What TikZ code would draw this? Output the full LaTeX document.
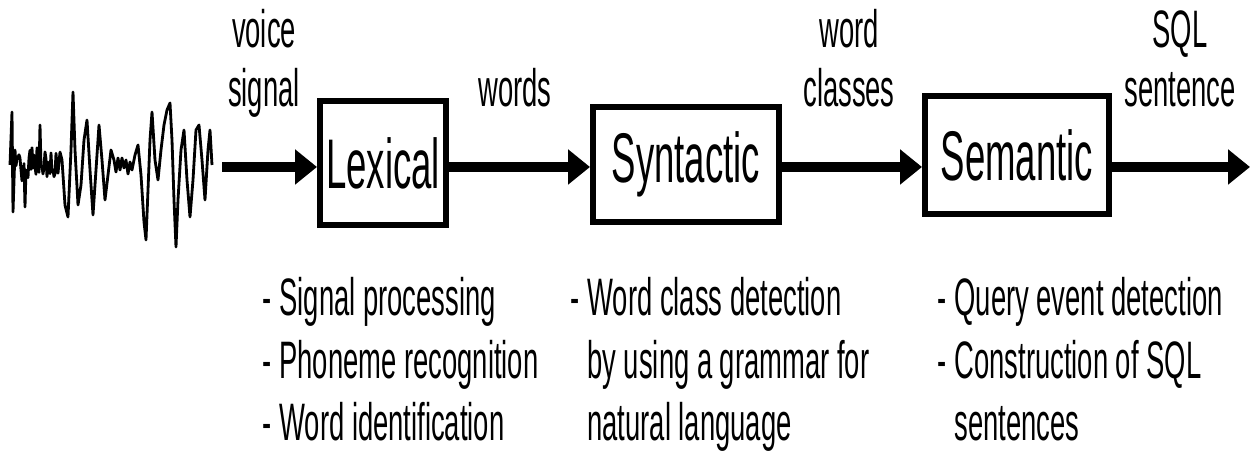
\documentclass[tikz,border=0pt]{standalone}
\usepackage{fontspec}
\setmainfont{Liberation Sans}[FakeStretch=0.52]
\usetikzlibrary{arrows.meta,positioning}

\tikzset{
  stage/.style={rectangle, draw=black, line width=0.6mm, inner sep=0pt, font=\fontsize{20}{24}\selectfont},
  flow/.style={line width=1mm, -{Triangle[length=2.2mm,width=3.4mm]}},
  lbl/.style={align=center, inner sep=0pt, font=\fontsize{15}{17}\selectfont},
  note/.style={align=left, inner sep=0pt, anchor=base west, font=\fontsize{15}{17.9}\selectfont},
  wave/.style={line width=0.8pt, line join=round},
}

\begin{document}
\begin{tikzpicture}[x=0.1mm,y=-0.1mm]
\useasboundingbox (0,0) rectangle (1254,454);

% voice signal
\pgfmathsetseed{11}
\draw[wave] (10,165) -- (12,112) -- (13,212) -- (15,150)
  \foreach \x in {16,17,...,24} { -- (\x,{165+20*rand}) }
  -- (25,207) -- (26,170)
  \foreach \x in {27,28,...,39} { -- (\x,{163+18*rand}) }
  -- (40,125) -- (41,165)
  \foreach \x in {42,43,...,60} { -- (\x,{165+17*rand}) }
  -- (62,160) -- (65,205) -- (68,217) -- (71,150) -- (73,92) -- (75,150)
  -- (78,205) -- (81,185) -- (84,140) -- (87,120) -- (90,170) -- (93,215)
  -- (96,170) -- (99,125) -- (102,160) -- (105,200) -- (108,175) -- (111,150)
  -- (114,160) -- (116,172) -- (118,158) -- (120,170) -- (122,158) -- (124,168)
  -- (126,160) -- (128,174) -- (130,162) -- (132,170) -- (135,155) -- (138,145)
  -- (141,175) -- (144,222) -- (146,240) -- (148,190) -- (150,140) -- (152,112)
  -- (155,160) -- (158,180) -- (161,150) -- (164,125) -- (167,110) -- (170,103)
  -- (172,140) -- (174,200) -- (176,247) -- (178,200) -- (181,150) -- (184,130)
  -- (187,180) -- (190,217) -- (193,180) -- (196,130) -- (199,125) -- (202,160)
  -- (205,200) -- (208,150) -- (210,130) -- (212,165);

% stages
\node[stage, minimum width=12.6mm, minimum height=12.4mm] (lex) at (383,163) {Lexical};
\node[stage, minimum width=18.6mm, minimum height=11.5mm] (syn) at (686,164.5) {Syntactic};
\node[stage, minimum width=18.4mm, minimum height=11.8mm] (sem) at (1017,155) {Semantic};

% flow
\coordinate (in) at (222,167);
\coordinate (out) at (1250,167);
\draw[flow] (in) -- (in -| lex.west);
\draw[flow] (lex.east |- in) -- (in -| syn.west);
\draw[flow] (syn.east |- in) -- (in -| sem.west);
\draw[flow] (sem.east |- in) -- (out);

% labels
\node[lbl, anchor=base] (voice) at (264,107) {voice\\signal};
\node[lbl, anchor=base] (words) at (515,107) {words};
\node[lbl, anchor=base] (classes) at (849,107) {word\\classes};
\node[lbl, anchor=base] (sql) at (1180,107) {SQL\\sentence};

% notes
\node[note] (lexnote) at (262,441) {- Signal processing\\- Phoneme recognition\\- Word identification};
\node[note] (synnote) at (570,441) {- Word class detection\\\phantom{- }by using a grammar for\\\phantom{- }natural language};
\node[note] (semnote) at (937,441) {- Query event detection\\- Construction of SQL\\\phantom{- }sentences};
\end{tikzpicture}
\end{document}
